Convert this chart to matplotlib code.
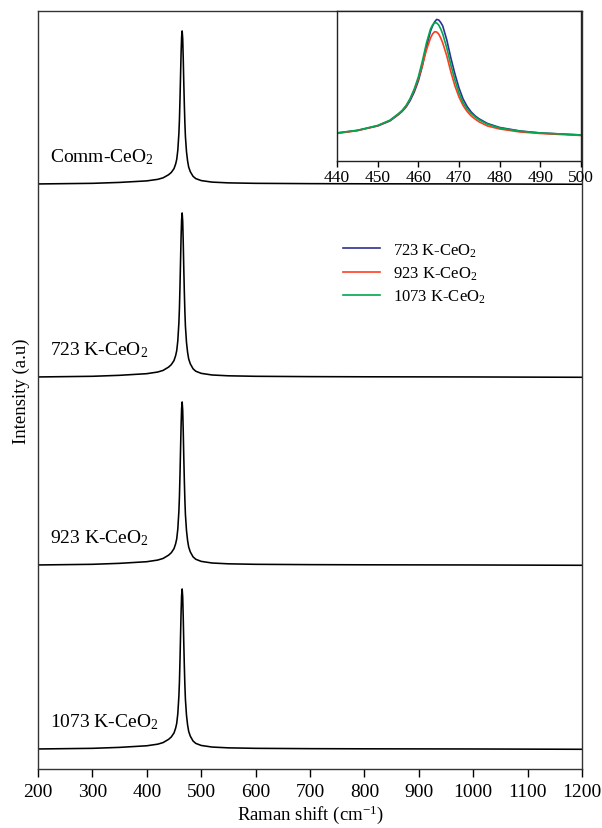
import matplotlib
matplotlib.use("Agg")
import matplotlib.pyplot as plt
import numpy as np

plt.rcParams["font.family"] = ["Liberation Serif", "DejaVu Serif"]
plt.rcParams["mathtext.fontset"] = "custom"
plt.rcParams["mathtext.rm"] = "Liberation Serif"
plt.rcParams["mathtext.it"] = "Liberation Serif:italic"

# Raman shift grid (cm^-1) and normalised band shape of the F2g mode
shift = [200, 300, 350, 400, 420, 430, 440, 445, 450, 453, 455, 457, 459, 460,
         461, 462, 463, 464, 465, 466, 467, 468, 469, 470, 471, 473, 475, 477,
         480, 485, 490, 500, 520, 550, 600, 700, 800, 1000, 1200]
profile = [0.0, 0.004, 0.01, 0.02, 0.03, 0.04, 0.06, 0.075, 0.10, 0.13, 0.16,
           0.22, 0.33, 0.42, 0.55, 0.70, 0.85, 0.96, 1.0, 0.95, 0.82, 0.66,
           0.52, 0.40, 0.31, 0.21, 0.15, 0.11, 0.08, 0.05, 0.035, 0.022, 0.012,
           0.007, 0.004, 0.002, 0.001, 0.0, -0.002]

samples = ["Comm-CeO$_2$", "723 K-CeO$_2$", "923 K-CeO$_2$", "1073 K-CeO$_2$"]
baseline = [585, 392, 204, 20]
peak_height = [153, 164, 163, 160]

# zoomed region of the band
inset_shift = [440, 445, 450, 453, 455, 456, 457, 458, 459, 460, 461, 462, 463,
               463.5, 464, 464.5, 465, 465.5, 466, 467, 468, 469, 470, 471, 472,
               473, 474, 475, 477, 480, 485, 490, 495, 500]
inset_723 = [28, 30.5, 35, 40, 46, 49.5, 54, 60.5, 69, 80, 95, 114, 130, 135,
             139, 141.5, 141, 138.5, 135, 121, 103, 87, 73, 62, 54.5, 49, 45, 42,
             37.5, 33.5, 30, 28, 27, 26]
inset_923 = [27.5, 30.3, 35.3, 40.5, 46.5, 50, 55, 62, 71, 82, 96, 111, 123, 127,
             129.2, 129, 127, 123, 118, 105, 89, 75, 64, 55.5, 49.5, 45, 41.8, 39,
             35, 32, 29, 27.5, 26.5, 25.5]
inset_1073 = [28, 30.7, 35.5, 40.7, 47, 50.5, 55.5, 62.5, 72, 84, 100, 118, 132,
              136, 138.2, 138, 136, 132, 127, 113, 96, 81, 68, 58.5, 52, 47.5, 44,
              41, 36.8, 33, 29.8, 28, 27, 26]
inset_labels = ["723 K-CeO$_2$", "923 K-CeO$_2$", "1073 K-CeO$_2$"]
inset_colors = ["#2e3192", "#ff3d1f", "#00a651"]

fig = plt.figure(figsize=(6.02, 8.29), dpi=100)
ax = fig.add_axes([0.0631, 0.0712, 0.9037, 0.9144])

x = np.array(shift)
p = np.array(profile)
for name, b, h in zip(samples, baseline, peak_height):
    ax.plot(x, b + h * p, color="black", lw=1.15)
    ax.text(222, b + 28, name, fontsize=14, va="center", ha="left")

ax.set_xlim(200, 1200)
ax.set_ylim(0, 758)
ax.set_xticks(range(200, 1201, 100))
ax.set_yticks([])
ax.tick_params(axis="x", direction="out", length=6, width=1, labelsize=14, pad=4)
ax.set_xlabel("Raman shift (cm$^{-1}$)", fontsize=13.5, labelpad=2)
ax.set_ylabel("Intensity (a.u)", fontsize=13.5, labelpad=6)
for s in ax.spines.values():
    s.set_color("#333333")
    s.set_linewidth(1.0)

ins = fig.add_axes([0.5598, 0.8046, 0.4053, 0.181])
lines = []
for ys, lab, c in zip([inset_723, inset_923, inset_1073], inset_labels, inset_colors):
    ln, = ins.plot(inset_shift, ys, color=c, lw=1.2, label=lab)
    lines.append(ln)
ins.set_xlim(440, 500)
ins.set_ylim(0, 150)
ins.set_xticks(range(440, 501, 10))
ins.set_yticks([])
ins.tick_params(axis="x", direction="out", length=4, width=1, labelsize=12.5, pad=2)
for s in ins.spines.values():
    s.set_color("#222222")
    s.set_linewidth(1.0)

fig.legend(handles=lines, loc="upper left", bbox_to_anchor=(0.545, 0.726),
           frameon=False, fontsize=12, handlelength=2.2, labelspacing=0.35,
           handletextpad=0.8)

fig.savefig("out.png", dpi=100)
